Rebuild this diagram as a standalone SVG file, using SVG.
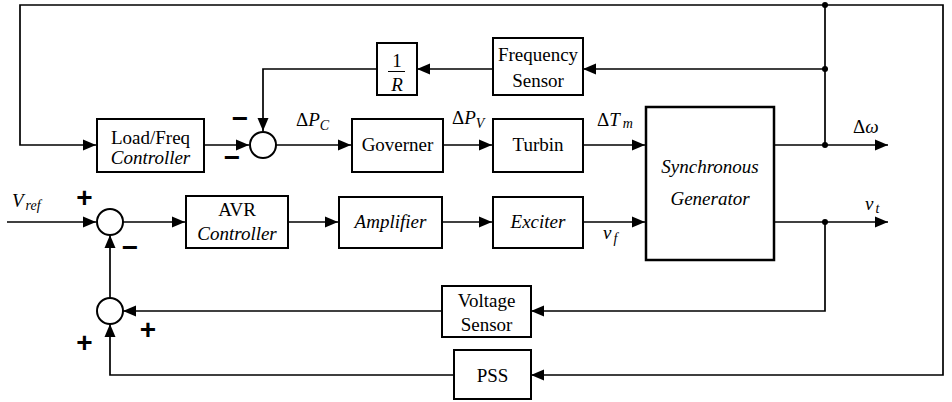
<svg xmlns="http://www.w3.org/2000/svg" width="952" height="402" viewBox="0 0 952 402">
<style>
.box{fill:#fff;stroke:#000;stroke-width:2}
.sg{fill:#fff;stroke:#000;stroke-width:2.5}
.sum{fill:#fff;stroke:#000;stroke-width:2}
.ln{fill:none;stroke:#000;stroke-width:1.7}
.t{font-family:"Liberation Serif","Times New Roman",serif;font-size:19px;fill:#000;text-anchor:middle}
.i{font-style:italic}
.lb{font-family:"Liberation Serif","Times New Roman",serif;font-size:19px;fill:#000}
.sub{font-size:14px;font-style:italic}
.sign{font-family:"Liberation Sans",Arial,sans-serif;font-weight:bold;font-size:28px;fill:#000;text-anchor:middle}
.dot{fill:#000}
</style>
<defs>
<marker id="ah" markerUnits="userSpaceOnUse" markerWidth="14" markerHeight="12" refX="13" refY="6" orient="auto">
<path d="M0,0.5 L13,6 L0,11.5 Z" fill="#000"/>
</marker>
</defs>

<g id="connectors">
<polyline class="ln" points="825,145 825,5 20,5 20,145 96,145" marker-end="url(#ah)"/>
<polyline class="ln" points="825,5 943,5 943,375 531,375" marker-end="url(#ah)"/>
<line class="ln" x1="204" y1="145" x2="249" y2="145" marker-end="url(#ah)"/>
<line class="ln" x1="276" y1="145" x2="351" y2="145" marker-end="url(#ah)"/>
<line class="ln" x1="443" y1="145" x2="492" y2="145" marker-end="url(#ah)"/>
<line class="ln" x1="583" y1="145" x2="645" y2="145" marker-end="url(#ah)"/>
<line class="ln" x1="774" y1="145" x2="888" y2="145" marker-end="url(#ah)"/>
<line class="ln" x1="825" y1="69" x2="583" y2="69" marker-end="url(#ah)"/>
<line class="ln" x1="493" y1="69" x2="417" y2="69" marker-end="url(#ah)"/>
<polyline class="ln" points="377,69 263,69 263,131" marker-end="url(#ah)"/>
<line class="ln" x1="7" y1="222" x2="96" y2="222" marker-end="url(#ah)"/>
<line class="ln" x1="123" y1="222" x2="185" y2="222" marker-end="url(#ah)"/>
<line class="ln" x1="288" y1="222" x2="338" y2="222" marker-end="url(#ah)"/>
<line class="ln" x1="442" y1="222" x2="492" y2="222" marker-end="url(#ah)"/>
<line class="ln" x1="583" y1="222" x2="645" y2="222" marker-end="url(#ah)"/>
<line class="ln" x1="774" y1="222" x2="888" y2="222" marker-end="url(#ah)"/>
<polyline class="ln" points="825,222 825,311 531,311" marker-end="url(#ah)"/>
<line class="ln" x1="442" y1="311" x2="123" y2="311" marker-end="url(#ah)"/>
<line class="ln" x1="110" y1="298" x2="110" y2="235" marker-end="url(#ah)"/>
<polyline class="ln" points="454,375 110,375 110,324" marker-end="url(#ah)"/>
<circle class="dot" cx="825" cy="5" r="3"/>
<circle class="dot" cx="825" cy="69" r="3"/>
<circle class="dot" cx="825" cy="145" r="3"/>
<circle class="dot" cx="825" cy="222" r="3"/>
</g>

<g id="load_freq_controller">
<rect class="box" x="97" y="119" width="107" height="53"/>
<text class="t" x="150.5" y="144">Load/Freq</text>
<text class="t i" x="150.5" y="164">Controller</text>
</g>

<g id="sum_lf">
<circle class="sum" cx="263" cy="145" r="13"/>
<text class="sign" x="240" y="128">−</text>
<text class="sign" x="232" y="167">−</text>
</g>

<g id="inv_r">
<rect class="box" x="377" y="43" width="40" height="52"/>
<text class="t" x="397" y="67">1</text>
<line x1="388" y1="71.5" x2="405" y2="71.5" stroke="#000" stroke-width="1"/>
<text class="t i" x="397" y="91">R</text>
</g>

<g id="frequency_sensor">
<rect class="box" x="493" y="38" width="90" height="57"/>
<text class="t" x="538" y="61">Frequency</text>
<text class="t" x="538" y="87">Sensor</text>
</g>

<g id="governer">
<rect class="box" x="352" y="119" width="91" height="53"/>
<text class="t" x="397.5" y="151">Governer</text>
</g>

<g id="turbin">
<rect class="box" x="493" y="119" width="90" height="53"/>
<text class="t" x="538" y="151">Turbin</text>
</g>

<g id="synchronous_generator">
<rect class="sg" x="646" y="107" width="128" height="153"/>
<text class="t i" x="710" y="173">Synchronous</text>
<text class="t i" x="710" y="205">Generator</text>
</g>

<g id="sum_avr">
<circle class="sum" cx="110" cy="222" r="13"/>
<text class="sign" x="84.5" y="207">+</text>
<text class="sign" x="130" y="257">−</text>
</g>

<g id="avr_controller">
<rect class="box" x="186" y="196" width="102" height="52"/>
<text class="t" x="237" y="216">AVR</text>
<text class="t i" x="237" y="240">Controller</text>
</g>

<g id="amplifier">
<rect class="box" x="339" y="197" width="103" height="51"/>
<text class="t i" x="390.5" y="228">Amplifier</text>
</g>

<g id="exciter">
<rect class="box" x="493" y="197" width="90" height="51"/>
<text class="t i" x="538" y="228">Exciter</text>
</g>

<g id="sum_pss">
<circle class="sum" cx="110" cy="311" r="13"/>
<text class="sign" x="148" y="339">+</text>
<text class="sign" x="84.5" y="352">+</text>
</g>

<g id="voltage_sensor">
<rect class="box" x="442" y="286" width="89" height="51"/>
<text class="t" x="486.5" y="307">Voltage</text>
<text class="t" x="486.5" y="331">Sensor</text>
</g>

<g id="pss">
<rect class="box" x="454" y="350" width="77" height="49"/>
<text class="t" x="492.5" y="382">PSS</text>
</g>

<g id="labels">
<text class="lb" x="296" y="126">Δ<tspan font-style="italic">P</tspan><tspan class="sub" dy="4">C</tspan></text>
<text class="lb" x="452" y="124">Δ<tspan font-style="italic">P</tspan><tspan class="sub" dy="4">V</tspan></text>
<text class="lb" x="597" y="126">Δ<tspan font-style="italic">T</tspan><tspan class="sub" dx="3" dy="2">m</tspan></text>
<text class="lb" x="853" y="133">Δ<tspan font-style="italic">ω</tspan></text>
<text class="lb" x="865" y="210"><tspan font-style="italic">v</tspan><tspan class="sub" dx="2" dy="3">t</tspan></text>
<text class="lb" x="603" y="239"><tspan font-style="italic">v</tspan><tspan class="sub" dx="2" dy="4">f</tspan></text>
<text class="lb" x="12" y="207"><tspan font-style="italic">V</tspan><tspan class="sub" dx="2" dy="3">ref</tspan></text>
</g>
</svg>
